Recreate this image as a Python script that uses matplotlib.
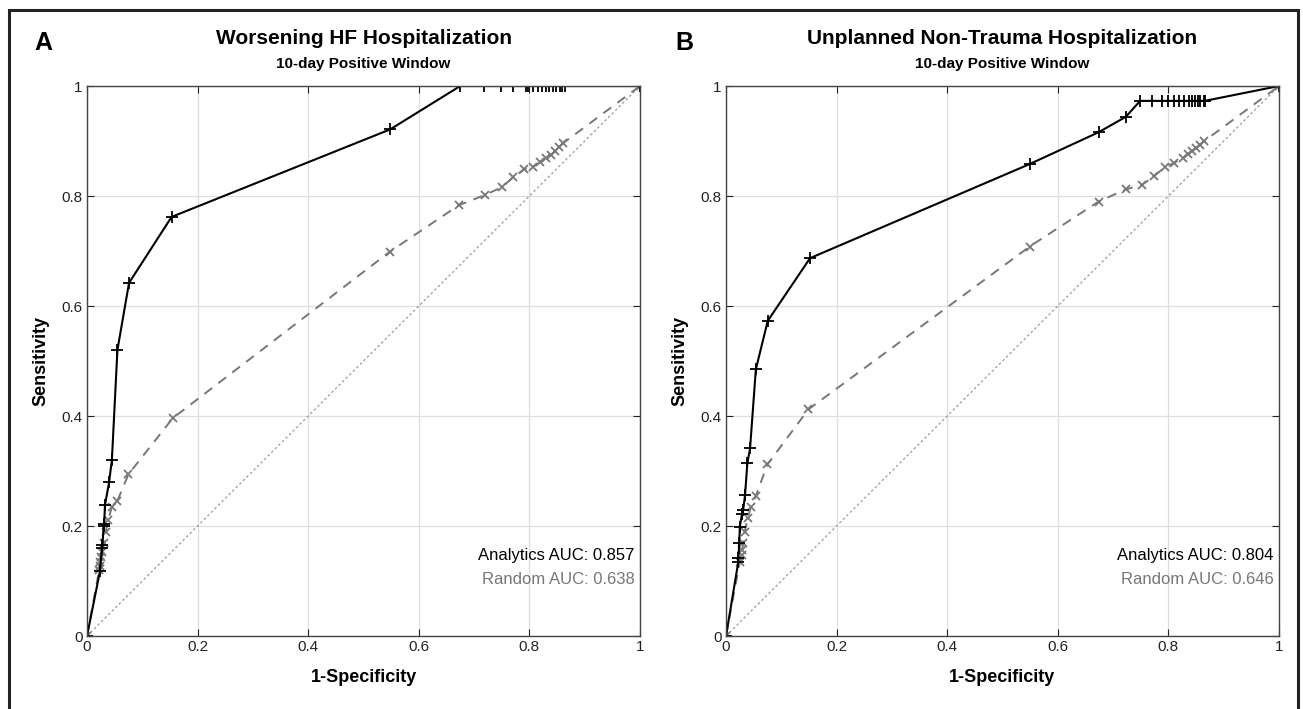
import matplotlib
matplotlib.use('Agg')
import matplotlib.pyplot as plt
from matplotlib.patches import Rectangle

plt.rcParams['font.family'] = ['Liberation Sans', 'DejaVu Sans']

# panel A - worsening HF hospitalization
a_fpr = [0, 0.0235, 0.027, 0.028, 0.030, 0.031, 0.0325, 0.040, 0.045, 0.055, 0.076, 0.153, 0.548,
         0.675, 0.718, 0.749, 0.770, 0.794, 0.798, 0.807, 0.816, 0.823, 0.830, 0.836, 0.843,
         0.848, 0.856, 0.859, 0.864, 1.0]
a_tpr = [0, 0.118, 0.16, 0.165, 0.20, 0.203, 0.238, 0.28, 0.32, 0.52, 0.642, 0.762, 0.921,
         1, 1, 1, 1, 1, 1, 1, 1, 1, 1, 1, 1,
         1, 1, 1, 1, 1]
a_rnd_fpr = [0, 0.022, 0.023, 0.024, 0.025, 0.028, 0.031, 0.034, 0.0385, 0.045, 0.055, 0.075, 0.155,
             0.548, 0.672, 0.720, 0.750, 0.771, 0.791, 0.807, 0.819, 0.830, 0.839, 0.847, 0.854,
             0.861, 1.0]
a_rnd_tpr = [0, 0.12, 0.128, 0.135, 0.144, 0.153, 0.169, 0.19, 0.211, 0.235, 0.246, 0.294, 0.396,
             0.699, 0.783, 0.802, 0.816, 0.834, 0.849, 0.853, 0.861, 0.869, 0.875, 0.881, 0.889,
             0.896, 1.0]

# panel B - unplanned non-trauma hospitalization
b_fpr = [0, 0.0223, 0.0225, 0.024, 0.025, 0.029, 0.031, 0.0344, 0.0386, 0.0435, 0.054, 0.0755,
         0.152, 0.549, 0.674, 0.723, 0.749, 0.770, 0.788, 0.800, 0.810, 0.819, 0.828, 0.837,
         0.843, 0.848, 0.854, 0.858, 0.864, 0.866, 1.0]
b_tpr = [0, 0.135, 0.142, 0.170, 0.199, 0.222, 0.229, 0.256, 0.314, 0.341, 0.485, 0.573,
         0.687, 0.858, 0.916, 0.944, 0.973, 0.973, 0.973, 0.973, 0.973, 0.973, 0.973, 0.973,
         0.973, 0.973, 0.973, 0.973, 0.973, 0.973, 1.0]
b_rnd_fpr = [0, 0.025, 0.0284, 0.0296, 0.031, 0.034, 0.039, 0.045, 0.054, 0.075, 0.149, 0.549,
             0.674, 0.723, 0.752, 0.774, 0.793, 0.810, 0.826, 0.835, 0.842, 0.850, 0.857, 0.865, 1.0]
b_rnd_tpr = [0, 0.135, 0.147, 0.156, 0.169, 0.190, 0.214, 0.234, 0.255, 0.312, 0.412, 0.708,
             0.790, 0.812, 0.820, 0.836, 0.852, 0.860, 0.869, 0.876, 0.881, 0.887, 0.893, 0.900, 1.0]

titles = ['Worsening HF Hospitalization', 'Unplanned Non-Trauma Hospitalization']
subtitle = '10-day Positive Window'
letters = ['A', 'B']
auc_analytics = ['0.857', '0.804']
auc_random = ['0.638', '0.646']
ticks = [0, 0.2, 0.4, 0.6, 0.8, 1]
tick_labels = ['0', '0.2', '0.4', '0.6', '0.8', '1']

W, H = 1303, 709
fig = plt.figure(figsize=(W / 100, H / 100), dpi=100)

# outer frame, open at the bottom like the cropped figure
fig.patches.append(Rectangle((9 / W, -0.05), (1298 - 9) / W, 1.05 - 10 / H, transform=fig.transFigure,
                             fill=False, edgecolor='#222222', linewidth=2.2))

panels = [(a_fpr, a_tpr, a_rnd_fpr, a_rnd_tpr), (b_fpr, b_tpr, b_rnd_fpr, b_rnd_tpr)]
lefts = [87, 726]

for i, (fpr, tpr, rfpr, rtpr) in enumerate(panels):
    ax = fig.add_axes([lefts[i] / W, (H - 636) / H, 553 / W, 550 / H])
    ax.plot([0, 1], [0, 1], color='#9a9a9a', linestyle=(0, (2, 2)), linewidth=0.9)
    ax.plot(rfpr, rtpr, color='#777777', linestyle=(0, (5, 4)), linewidth=1.4,
            marker='x', markersize=6, markeredgewidth=1.3)
    ax.plot(fpr, tpr, color='black', linewidth=1.5, marker='+', markersize=8.5, markeredgewidth=1.3)

    ax.set_xlim(0, 1)
    ax.set_ylim(0, 1)
    ax.set_xticks(ticks)
    ax.set_yticks(ticks)
    ax.set_xticklabels(tick_labels)
    ax.set_yticklabels(tick_labels)
    ax.grid(True, color='#dedede', linewidth=0.9)
    ax.set_axisbelow(True)
    ax.tick_params(direction='in', length=5, width=0.8, top=True, right=True, labelsize=11,
                   pad=3, colors='#222222')
    for s in ax.spines.values():
        s.set_color('#444444')
        s.set_linewidth(1.0)

    ax.set_xlabel('1-Specificity', fontsize=13, fontweight='bold', labelpad=11)
    ax.set_ylabel('Sensitivity', fontsize=13, fontweight='bold', labelpad=9)

    ax.text(0.99, 0.147, 'Analytics AUC: ' + auc_analytics[i], ha='right', va='center',
            fontsize=12, color='black')
    ax.text(0.99, 0.102, 'Random AUC: ' + auc_random[i], ha='right', va='center',
            fontsize=12, color='#777777')

    cx = (lefts[i] + 553 / 2) / W
    fig.text(cx, 1 - 39 / H, titles[i], ha='center', va='center', fontsize=15, fontweight='bold')
    fig.text(cx, 1 - 64 / H, subtitle, ha='center', va='center', fontsize=11, fontweight='bold')

fig.text(43 / W, 1 - 43 / H, letters[0], ha='center', va='center', fontsize=18, fontweight='bold')
fig.text(684 / W, 1 - 43 / H, letters[1], ha='center', va='center', fontsize=18, fontweight='bold')

fig.savefig('out.png', dpi=100)
